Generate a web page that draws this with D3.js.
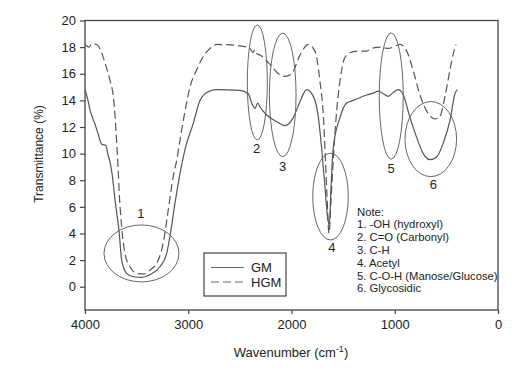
<!DOCTYPE html>
<html>
<head>
<meta charset="utf-8">
<script src="https://cdn.jsdelivr.net/npm/d3@7"></script>
<style>
  body { margin: 0; background: #fff; }
  svg text { font-family: Arial, "Liberation Sans", sans-serif; fill: #222; }
</style>
</head>
<body>
<div id="chart"></div>
<script>
// GM spectrum [wavenumber, transmittance]
const gmData = [
  [4000, 14.8], [3971, 14.0], [3952, 13.3], [3923, 12.6], [3903, 12.2], [3874, 11.5],
  [3838, 10.7], [3797, 10.6], [3777, 9.9], [3758, 9.4], [3738, 8.5], [3709, 6.5],
  [3668, 4.0], [3645, 2.0], [3596, 1.0], [3532, 0.75], [3451, 0.7], [3370, 0.9],
  [3274, 1.5], [3209, 2.5], [3177, 3.8], [3128, 6.3], [3080, 8.5], [3022, 10.6],
  [2954, 12.2], [2886, 14.0], [2838, 14.5], [2789, 14.7], [2725, 14.8], [2499, 14.75],
  [2418, 14.5], [2386, 13.8], [2354, 13.4], [2327, 13.8], [2305, 13.5], [2240, 12.9],
  [2143, 12.4], [2063, 12.1], [1983, 12.7], [1918, 13.9], [1853, 14.8], [1789, 14.3],
  [1741, 12.8], [1708, 10.4], [1676, 7.5], [1650, 5.2], [1634, 4.6], [1617, 7.5],
  [1596, 10.4], [1531, 12.7], [1466, 13.8], [1401, 14.0], [1272, 14.4], [1191, 14.6],
  [1159, 14.7], [1111, 14.5], [1063, 14.3], [1014, 14.6], [966, 14.8], [917, 14.4],
  [852, 12.7], [787, 11.2], [724, 10.0], [659, 9.55], [594, 9.75], [530, 10.8],
  [465, 12.5], [417, 14.5], [394, 14.8]
];

// HGM spectrum [wavenumber, transmittance]
const hgmData = [
  [4000, 18.2], [3984, 18.1], [3961, 18.0], [3935, 18.25], [3887, 18.2], [3855, 17.9],
  [3806, 16.8], [3758, 15.5], [3726, 14.3], [3709, 12.8], [3693, 10.8], [3680, 9.0],
  [3668, 7.0], [3645, 4.5], [3613, 2.5], [3564, 1.5], [3499, 1.0], [3435, 0.95],
  [3370, 1.25], [3290, 2.0], [3242, 3.3], [3193, 5.8], [3145, 8.3], [3112, 9.5],
  [3080, 11.0], [3031, 13.2], [2983, 15.0], [2918, 16.3], [2854, 17.3], [2789, 17.9],
  [2725, 18.2], [2499, 18.1], [2402, 17.9], [2373, 17.6], [2354, 17.8], [2334, 17.5],
  [2305, 17.4], [2208, 16.7], [2128, 16.0], [2063, 15.8], [1998, 16.0], [1918, 17.4],
  [1837, 18.2], [1773, 17.7], [1724, 15.4], [1692, 12.9], [1676, 10.4], [1657, 7.0],
  [1637, 4.0], [1617, 6.5], [1588, 10.5], [1559, 13.5], [1531, 15.4], [1498, 16.9],
  [1466, 17.4], [1369, 17.7], [1272, 17.7], [1224, 17.9], [1143, 18.0], [1063, 17.9],
  [1014, 18.0], [949, 18.2], [884, 17.7], [820, 16.2], [756, 14.4], [691, 13.2],
  [610, 12.6], [562, 12.8], [513, 14.3], [465, 16.3], [433, 17.5], [407, 18.2]
];

// band annotations: label, centre wavenumber, centre %T, half-width (cm-1), half-height (%T)
const bandLabels = ["1", "2", "3", "4", "5", "6"];
const bandCenters = [[3453, 2.5], [2331, 15.35], [2085, 14.41], [1622, 6.77], [1034, 14.32], [651, 11.09]];
const bandRadii = [[363, 2.14], [97, 4.32], [129, 4.64], [172, 3.26], [116, 4.74], [250, 2.82]];
const bandLabelPos = [[3458, 5.5], [2337, 10.4], [2085, 9.0], [1608, 2.95], [1036, 8.9], [627, 7.7]];

const noteLines = [
  "Note:",
  "1. -OH (hydroxyl)",
  "2. C=O (Carbonyl)",
  "3. C-H",
  "4. Acetyl",
  "5. C-O-H (Manose/Glucose)",
  "6. Glycosidic"
];

const xTicks = [4000, 3000, 2000, 1000, 0];
const yTicks = [0, 2, 4, 6, 8, 10, 12, 14, 16, 18, 20];

const W = 531, H = 376;
const mLeft = 85, mRight = 498, mTop = 20.5, mBottom = 310;
const ink = "#444";

const svg = d3.select("#chart").append("svg")
  .attr("width", W).attr("height", H);

const x = d3.scaleLinear().domain([4000, 0]).range([mLeft, mRight]);
const y = d3.scaleLinear().domain([-1.75, 20]).range([mBottom, mTop]);

// frame
svg.append("rect")
  .attr("x", mLeft).attr("y", mTop)
  .attr("width", mRight - mLeft).attr("height", mBottom - mTop)
  .attr("fill", "none").attr("stroke", ink).attr("stroke-width", 1.3);

// axes
const xAxis = svg.append("g")
  .attr("transform", `translate(0,${mBottom})`)
  .call(d3.axisBottom(x).tickValues(xTicks).tickSize(4).tickPadding(6).tickFormat(d3.format("d")));
const yAxis = svg.append("g")
  .attr("transform", `translate(${mLeft},0)`)
  .call(d3.axisLeft(y).tickValues(yTicks).tickSize(5).tickPadding(4));

[xAxis, yAxis].forEach(g => {
  g.select(".domain").remove();
  g.selectAll(".tick line").attr("stroke", ink).attr("stroke-width", 1.2);
  g.selectAll(".tick text").attr("font-size", 13).attr("fill", "#222")
    .style("font-family", "Arial, 'Liberation Sans', sans-serif");
});

// curves
const line = d3.line()
  .x(d => x(d[0]))
  .y(d => y(d[1]))
  .curve(d3.curveMonotoneX);

svg.append("path").datum(gmData)
  .attr("d", line)
  .attr("fill", "none").attr("stroke", "#555").attr("stroke-width", 1.2);

svg.append("path").datum(hgmData)
  .attr("d", line)
  .attr("fill", "none").attr("stroke", "#555").attr("stroke-width", 1.2)
  .attr("stroke-dasharray", "8,4");

// band ellipses
svg.append("g").selectAll("ellipse")
  .data(bandLabels)
  .enter().append("ellipse")
  .attr("cx", (d, i) => x(bandCenters[i][0]))
  .attr("cy", (d, i) => y(bandCenters[i][1]))
  .attr("rx", (d, i) => Math.abs(x(bandRadii[i][0]) - x(0)))
  .attr("ry", (d, i) => Math.abs(y(bandRadii[i][1]) - y(0)))
  .attr("fill", "none").attr("stroke", "#666").attr("stroke-width", 1);

svg.append("g").selectAll("text")
  .data(bandLabels)
  .enter().append("text")
  .attr("x", (d, i) => x(bandLabelPos[i][0]))
  .attr("y", (d, i) => y(bandLabelPos[i][1]))
  .attr("dy", "0.35em")
  .attr("text-anchor", "middle")
  .attr("font-size", 13)
  .text(d => d);

// legend
const legend = svg.append("g");
legend.append("rect")
  .attr("x", 204).attr("y", 253).attr("width", 82).attr("height", 43)
  .attr("fill", "#fff").attr("stroke", ink).attr("stroke-width", 1.2);
const legendItems = [["GM", null], ["HGM", "8,4"]];
legendItems.forEach((it, i) => {
  const ly = 267.5 + i * 14.5;
  legend.append("line")
    .attr("x1", 211).attr("x2", 244).attr("y1", ly).attr("y2", ly)
    .attr("stroke", "#666").attr("stroke-width", 1.1)
    .attr("stroke-dasharray", it[1]);
  legend.append("text")
    .attr("x", 251).attr("y", ly).attr("dy", "0.35em")
    .attr("font-size", 13).text(it[0]);
});

// note block
svg.append("g").selectAll("text")
  .data(noteLines)
  .enter().append("text")
  .attr("x", 357)
  .attr("y", (d, i) => 215.5 + i * 12.8)
  .attr("font-size", 11.3)
  .text(d => d);

// axis titles
const xt = svg.append("text")
  .attr("x", 291).attr("y", 357)
  .attr("text-anchor", "middle")
  .attr("font-size", 13);
xt.append("tspan").text("Wavenumber (cm");
xt.append("tspan").attr("dy", -5).attr("font-size", 9).text("-1");
xt.append("tspan").attr("dy", 5).text(")");

svg.append("text")
  .attr("transform", "translate(43,154) rotate(-90)")
  .attr("text-anchor", "middle")
  .attr("font-size", 12)
  .text("Transmittance (%)");
</script>
</body>
</html>
